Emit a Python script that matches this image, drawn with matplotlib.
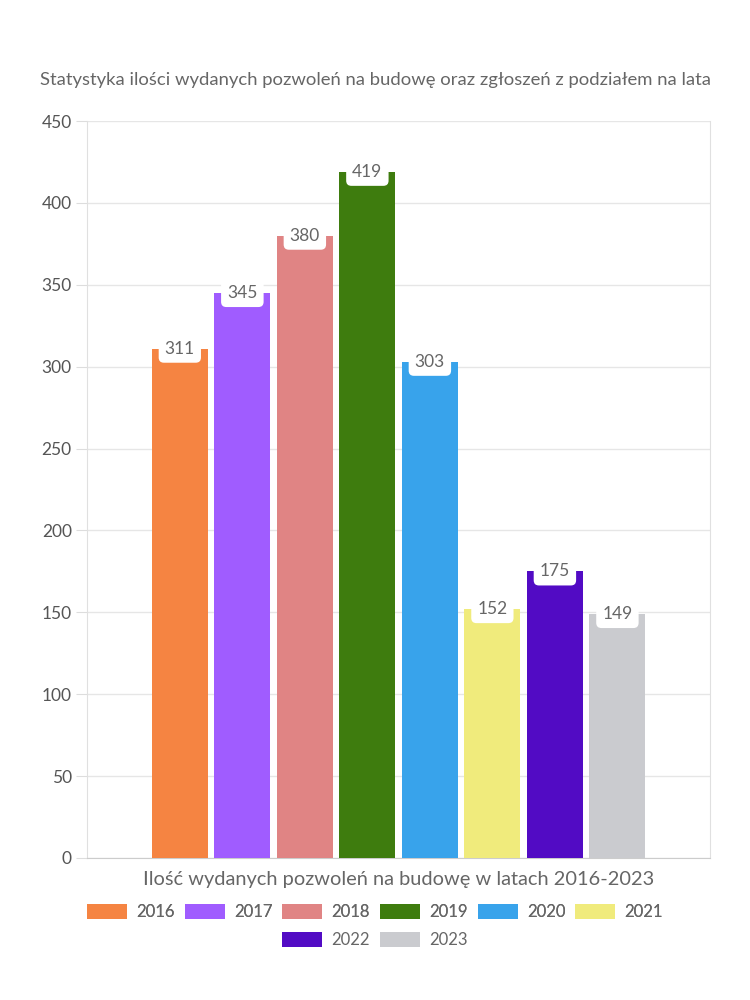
import matplotlib
matplotlib.use("Agg")
import matplotlib.pyplot as plt
from matplotlib.patches import Patch

years = ["2016", "2017", "2018", "2019", "2020", "2021", "2022", "2023"]
permits = [311, 345, 380, 419, 303, 152, 175, 149]
colors = ["#F58442", "#A05CFF", "#E08484", "#3E7C0E", "#38A3EB", "#F0EB7C", "#520BC4", "#CACBCF"]
y_ticks = [0, 50, 100, 150, 200, 250, 300, 350, 400, 450]

title = "Statystyka ilości wydanych pozwoleń na budowę oraz zgłoszeń z podziałem na lata"
x_title = "Ilość wydanych pozwoleń na budowę w latach 2016-2023"

plt.rcParams["font.family"] = ["Lato", "DejaVu Sans"]
text_color = "#666666"

fig = plt.figure(figsize=(7.5, 10), dpi=100)
ax = fig.add_axes([0.116, 0.142, 0.831, 0.737])

positions = list(range(len(years)))
ax.bar(positions, permits, width=0.896, color=colors, zorder=3)

for x, v in zip(positions, permits):
    ax.text(x, v, str(v), ha="center", va="center", fontsize=12.5, color=text_color, zorder=4,
            bbox=dict(boxstyle="round,pad=0.35,rounding_size=0.3", fc="white", ec="none"))

ax.set_xlim(-1.485, 8.485)
ax.set_ylim(0, 450)
ax.set_yticks(y_ticks)
ax.set_yticklabels([str(t) for t in y_ticks], fontsize=12.5, color="#555555")
ax.set_xticks([])
ax.tick_params(axis="y", length=8, color="#dddddd", pad=3)
ax.grid(axis="y", color="#e6e6e6", linewidth=1, zorder=0)

for side in ["left", "right", "top"]:
    ax.spines[side].set_color("#e0e0e0")
ax.spines["top"].set_visible(False)
ax.spines["bottom"].set_color("#cccccc")

fig.text(0.5, 0.92, title, ha="center", va="center", fontsize=13.3, color=text_color)
fig.text(0.531, 0.12, x_title, ha="center", va="center", fontsize=14.4, color=text_color)

handles = [Patch(facecolor=c, edgecolor="none") for c in colors]
leg_kw = dict(frameon=False, fontsize=12, handlelength=2.4, handleheight=1.0,
              handletextpad=0.55, columnspacing=0.6, labelcolor=text_color, borderpad=0)
leg1 = fig.legend(handles[:6], years[:6], ncol=6, loc="center",
                  bbox_to_anchor=(0.5, 0.088), **leg_kw)
fig.add_artist(leg1)
fig.legend(handles[6:], years[6:], ncol=2, loc="center",
           bbox_to_anchor=(0.5, 0.060), **leg_kw)

fig.savefig("out.png", dpi=100, facecolor="white")
